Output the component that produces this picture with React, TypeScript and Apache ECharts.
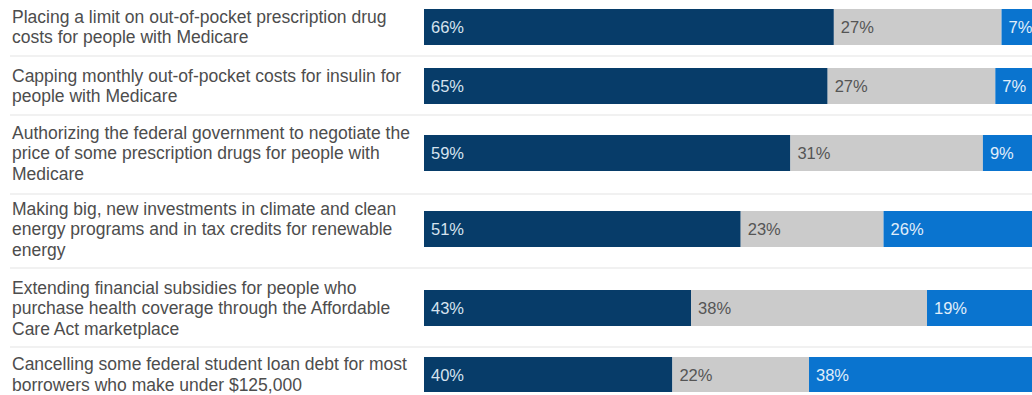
import React, { useEffect, useRef } from "react";
import * as echarts from "echarts";

const categories: string[] = [
  "Placing a limit on out-of-pocket prescription drug\ncosts for people with Medicare",
  "Capping monthly out-of-pocket costs for insulin for\npeople with Medicare",
  "Authorizing the federal government to negotiate the\nprice of some prescription drugs for people with\nMedicare",
  "Making big, new investments in climate and clean\nenergy programs and in tax credits for renewable\nenergy",
  "Extending financial subsidies for people who\npurchase health coverage through the Affordable\nCare Act marketplace",
  "Cancelling some federal student loan debt for most\nborrowers who make under $125,000",
];
const support: number[] = [66, 65, 59, 51, 43, 40];
const neutral: number[] = [27, 27, 31, 23, 38, 22];
const oppose: number[] = [7, 7, 9, 26, 19, 38];

// layout (px)
const rowTops = [9, 68, 135, 211, 290, 357];
const separators = [56, 115, 194, 268, 347];
const BAR_H = 36;
const LEFT = 424;
const PLOT_W = 621;

const COLORS = { support: "#073c69", neutral: "#cbcbcb", oppose: "#0a74cf" };
const FONT = "'Liberation Sans', Arial, sans-serif";

export default function App() {
  const ref = useRef<HTMLDivElement>(null);
  useEffect(() => {
    if (!ref.current) return;
    const chart = echarts.init(ref.current, undefined, { renderer: "svg" });
    const grids: any[] = [];
    const xAxes: any[] = [];
    const yAxes: any[] = [];
    const series: any[] = [];
    categories.forEach((cat, i) => {
      grids.push({ left: LEFT, top: rowTops[i], width: PLOT_W, height: BAR_H, containLabel: false });
      xAxes.push({ type: "value", gridIndex: i, min: 0, max: 100, show: false });
      yAxes.push({
        type: "category",
        gridIndex: i,
        data: [cat],
        axisLine: { show: false },
        axisTick: { show: false },
        splitLine: { show: false },
        axisLabel: {
          align: "left",
          margin: LEFT - 12,
          fontSize: 17.5,
          lineHeight: 20.5,
          color: "#4d4d4d",
          fontFamily: FONT,
        },
      });
      const mk = (name: string, vals: number[], color: string, labelColor: string) => ({
        name,
        type: "bar",
        stack: "row" + i,
        xAxisIndex: i,
        yAxisIndex: i,
        barWidth: BAR_H,
        data: [vals[i]],
        itemStyle: { color },
        label: {
          show: true,
          position: "insideLeft",
          distance: 7,
          formatter: "{c}%",
          fontSize: 16.5,
          color: labelColor,
          fontFamily: FONT,
        },
      });
      series.push(mk("Support", support, COLORS.support, "#d6e3ef"));
      series.push(mk("Neither", neutral, COLORS.neutral, "#555555"));
      series.push(mk("Oppose", oppose, COLORS.oppose, "#e0eefa"));
    });
    chart.setOption({
      animation: false,
      backgroundColor: "#ffffff",
      grid: grids,
      xAxis: xAxes,
      yAxis: yAxes,
      series,
      graphic: separators.map((y) => ({
        type: "line",
        shape: { x1: 10, y1: y, x2: 1050, y2: y },
        style: { stroke: "#ececec", lineWidth: 1.5 },
        silent: true,
      })),
    });
    return () => chart.dispose();
  }, []);
  return (
    <div style={{ position: "fixed", left: 0, top: 0, width: 1032, height: 395, overflow: "hidden", background: "#fff" }}>
      <div ref={ref} style={{ width: 1050, height: 395 }} />
    </div>
  );
}
